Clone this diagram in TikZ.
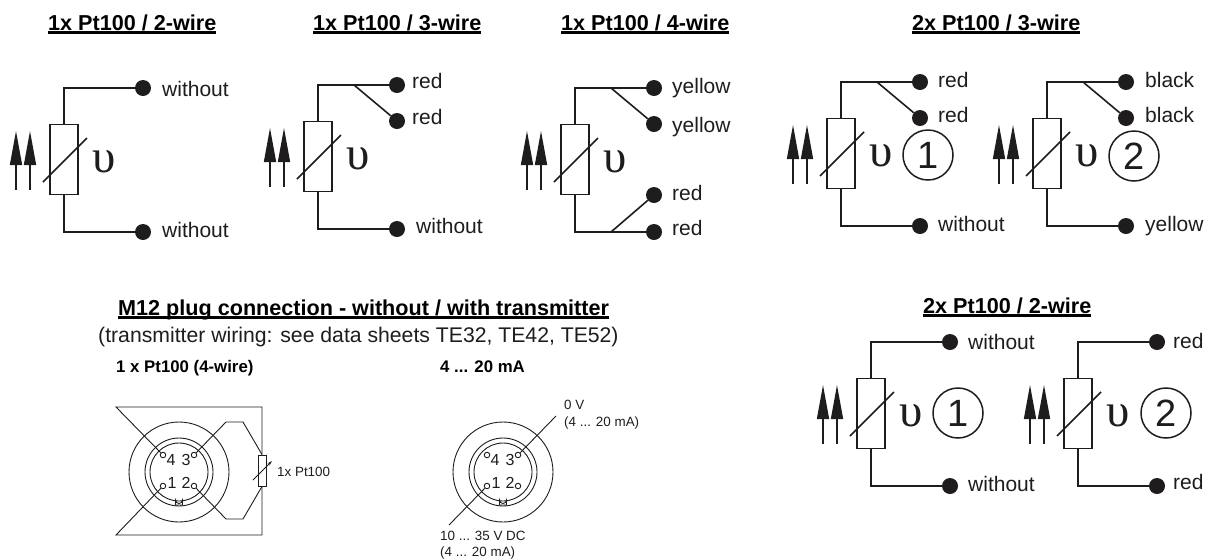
\documentclass[tikz,border=0pt]{standalone}
\usepackage{fontspec}
\setmainfont{Liberation Sans}
\newfontfamily\serifsym{Liberation Serif}
\usetikzlibrary{arrows.meta}
\definecolor{ink}{RGB}{30,28,28}
\newcommand\fsz[1]{\fontsize{#1}{#1}\selectfont}
\newcommand\uhead[1]{\setbox0=\hbox{#1}\leavevmode\rlap{\raisebox{-3.6pt}{\rule{\wd0}{2.6pt}}}\box0}
\tikzset{
  wire/.style={draw=ink,line width=1.6pt},
  thin wire/.style={draw=ink,line width=0.9pt},
  beam/.style={draw=ink,line width=1.5pt,-{Triangle[length=34pt,width=12pt]},shorten >=-1pt},
  res/.style={draw=ink,line width=1.6pt,fill=white,minimum width=28pt,minimum height=70pt,inner sep=0pt},
  dot/.style={circle,fill=ink,minimum size=16pt,inner sep=0pt},
  lab/.style={anchor=base west,inner sep=0pt,text=ink,font=\fsz{21}},
  headb/.style={anchor=base west,inner sep=0pt,font=\bfseries\fsz{21.6}},
  subh/.style={anchor=base west,inner sep=0pt,font=\bfseries\fsz{16.8}},
  small/.style={anchor=base west,inner sep=0pt,text=ink,font=\fsz{13.4}},
  pinnum/.style={anchor=base,inner sep=0pt,text=ink,font=\fsz{16}},
  upsi/.style={inner sep=0pt,text=ink,font=\serifsym\fsz{47}},
  numc/.style={circle,draw=ink,line width=1.5pt,minimum size=50pt,inner sep=0pt,text=ink,font=\fsz{38}},
  ring/.style={circle,draw=ink,line width=0.9pt,inner sep=0pt},
  pin/.style={circle,draw=ink,line width=0.9pt,fill=white,minimum size=5.5pt,inner sep=0pt},
  mres/.style={draw=ink,line width=0.9pt,fill=white,minimum width=8pt,minimum height=31pt,inner sep=0pt},
}
% one Pt100 element drawn in its own frame, shifted by (#2,#3)
\newcommand\sensor[3]{%
  \begin{scope}[shift={(#2,#3)}]
    \coordinate (#1-a1s) at (16,190); \coordinate (#1-a1t) at (16,132);
    \coordinate (#1-a2s) at (30,190); \coordinate (#1-a2t) at (30,132);
    \draw[beam] (#1-a1s) -- (#1-a1t);
    \draw[beam] (#1-a2s) -- (#1-a2t);
    \node[res] (#1-r) at (64,159.5) {};
    \coordinate (#1-ss) at (43,182); \coordinate (#1-se) at (87,138);
    \draw[wire] (#1-ss) -- (#1-se);
    \node[upsi] (#1-u) at (104,162) {υ};
    \node[dot] (#1-a) at (143,88) {};
    \node[dot] (#1-z) at (143,232) {};
    \draw[wire] (#1-r.north) |- (#1-a);
    \draw[wire] (#1-r.south) |- (#1-z);
  \end{scope}}
\newcommand\topbranch[1]{%
  \node[dot] (#1-b) at ([shift={(0,36)}]#1-a) {};
  \coordinate (#1-j) at ([shift={(-43,0)}]#1-a);
  \draw[wire] (#1-j) -- (#1-b);}
% M12 plug face centred on (#2,#3)
\newcommand\plug[3]{%
  \begin{scope}[shift={(#2,#3)}]
    \node[ring,minimum size=100pt] (#1-o) at (0,0) {};
    \node[ring,minimum size=68pt] (#1-i) at (0,0) {};
    \node[ring,minimum size=58pt] (#1-k) at (0,0) {};
    \node[pin] (#1-p4) at (-16,-17) {};
    \node[pin] (#1-p3) at (15,-17) {};
    \node[pin] (#1-p1) at (-16,14) {};
    \node[pin] (#1-p2) at (15,14) {};
    \node[pinnum] (#1-n4) at (-8,-7) {4};
    \node[pinnum] (#1-n3) at (7,-7) {3};
    \node[pinnum] (#1-n1) at (-7,16) {1};
    \node[pinnum] (#1-n2) at (7,16) {2};
    \draw[thin wire] (-3.5,33) -- (-3.5,28) arc[start angle=180,end angle=0,radius=3.5] -- (3.5,33) -- cycle;
  \end{scope}}
\begin{document}
\begin{tikzpicture}[x=1pt,y=-1pt]
\useasboundingbox (0,0) rectangle (1211,558);
% headings
\node[headb] (h1) at (48,30) {\uhead{1x Pt100 / 2-wire}};
\node[headb] (h2) at (313,30) {\uhead{1x Pt100 / 3-wire}};
\node[headb] (h3) at (561,30) {\uhead{1x Pt100 / 4-wire}};
\node[headb] (h4) at (912,30) {\uhead{2x Pt100 / 3-wire}};
\node[headb] (h5) at (923,313) {\uhead{2x Pt100 / 2-wire}};
\node[headb] (h6) at (118,315) {\uhead{M12 plug connection - without / with transmitter}};
\node[anchor=base west,inner sep=0pt,text=ink,font=\fsz{21.2}] (h7) at (98,342) {(transmitter wiring: see data sheets TE32, TE42, TE52)};
\node[subh] (h8) at (116,372) {1 x Pt100 (4-wire)};
\node[subh] (h9) at (440,372) {4 ... 20 mA};
% 1x 2-wire
\sensor{s1}{0}{0}
\node[lab] (l1a) at (162,96) {without};
\node[lab] (l1z) at (162,237) {without};
% 1x 3-wire
\sensor{s2}{254}{-3}
\topbranch{s2}
\node[lab] (l2a) at (412,88) {red};
\node[lab] (l2b) at (412,124) {red};
\node[lab] (l2z) at (416,233) {without};
% 1x 4-wire
\sensor{s3}{511}{0}
\topbranch{s3}
\node[dot] (s3-c) at ([shift={(0,-37)}]s3-z) {};
\coordinate (s3-k) at ([shift={(-43,0)}]s3-z);
\draw[wire] (s3-k) -- (s3-c);
\node[lab] (l3a) at (672,93) {yellow};
\node[lab] (l3b) at (672,132) {yellow};
\node[lab] (l3c) at (672,200) {red};
\node[lab] (l3d) at (672,235) {red};
% 2x 3-wire
\sensor{s4}{777}{-6}
\topbranch{s4}
\node[numc] (c4) at (928,155) {1};
\node[lab] (l4a) at (938,87) {red};
\node[lab] (l4b) at (938,122) {red};
\node[lab] (l4z) at (938,231) {without};
\sensor{s5}{983}{-6}
\topbranch{s5}
\node[numc] (c5) at (1134,156) {2};
\node[lab] (l5a) at (1145,87) {black};
\node[lab] (l5b) at (1145,122) {black};
\node[lab] (l5z) at (1145,231) {yellow};
% 2x 2-wire
\sensor{s6}{807}{254}
\node[numc] (c6) at (958,413) {1};
\node[lab] (l6a) at (968,349) {without};
\node[lab] (l6z) at (968,491) {without};
\sensor{s7}{1014}{254}
\node[numc] (c7) at (1166,413) {2};
\node[lab] (l7a) at (1173,348) {red};
\node[lab] (l7z) at (1173,489) {red};
% M12 without transmitter
\plug{m}{179}{472}
\node[mres] (mr) at (262,470.5) {};
\coordinate (mtl) at (116,407);
\coordinate (mbl) at (116,535);
\coordinate (mtr) at (262,407);
\coordinate (mbr) at (262,535);
\coordinate (mu1) at (226,422);
\coordinate (mu2) at (243,422);
\coordinate (md1) at (226,519);
\coordinate (md2) at (243,519);
\coordinate (mss) at (253,480);
\coordinate (mse) at (272,461);
\draw[thin wire] (m-p4) -- (mtl) -- (mtr) -- (mr.north);
\draw[thin wire] (m-p1) -- (mbl) -- (mbr) -- (mr.south);
\draw[thin wire] (m-p3) -- (mu1) -- (mu2) -- (mr.north);
\draw[thin wire] (m-p2) -- (md1) -- (md2) -- (mr.south);
\draw[thin wire,-{Stealth[length=5pt,width=3pt]}] (mss) -- (mse);
\node[small] (mt) at (277,476) {1x Pt100};
% M12 with transmitter
\plug{t}{503}{472}
\coordinate (tp) at (556,416);
\coordinate (tm) at (449,525);
\draw[thin wire] (t-p3) -- (tp);
\draw[thin wire] (t-p1) -- (tm);
\node[small] (t0) at (564,409) {0 V};
\node[small] (t1) at (564,426) {(4 ... 20 mA)};
\node[small] (t2) at (440,540) {10 ... 35 V DC};
\node[small] (t3) at (440,556) {(4 ... 20 mA)};
\end{tikzpicture}
\end{document}
